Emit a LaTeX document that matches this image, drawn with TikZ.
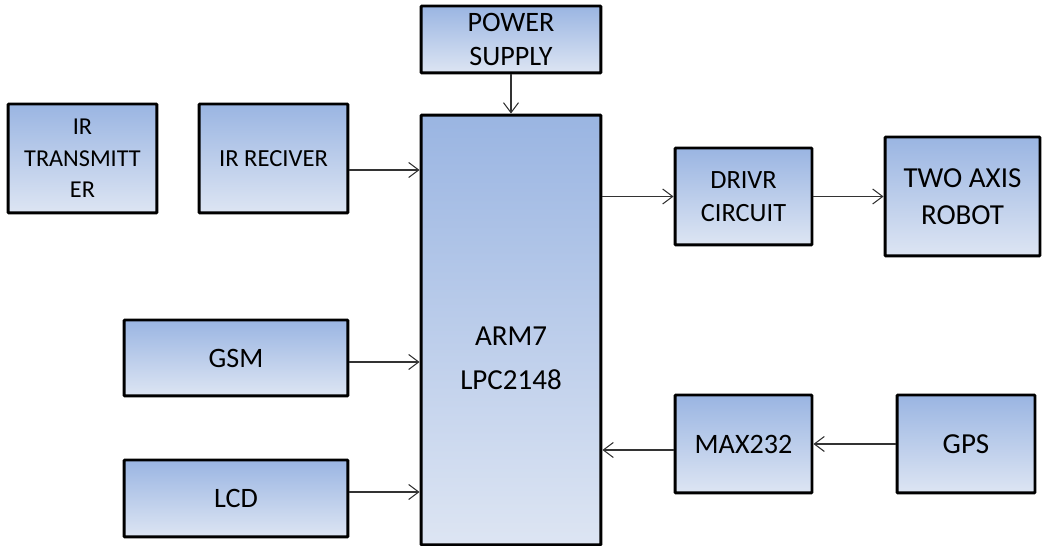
\documentclass[tikz,border=0pt]{standalone}
\usepackage{fontspec}
\setmainfont{Carlito}
\usetikzlibrary{positioning,arrows.meta}

\tikzset{
  blk/.style={draw=black, line width=1.7pt, rounded corners=0.5pt,
    top color=topblue, bottom color=botblue, align=center, inner sep=0pt,
    font=\fontsize{16}{19}\selectfont},
  link/.style={-{Straight Barb[length=2mm,width=3mm]}, draw=black!80, line width=0.6pt}
}
\definecolor{topblue}{HTML}{9AB5E2}
\definecolor{botblue}{HTML}{DDE5F3}

\begin{document}
\begin{tikzpicture}[x=0.02cm, y=-0.02cm]
\useasboundingbox (0,0) rectangle (1045,546);

% left column
\node[blk, minimum width=2.98cm, minimum height=2.18cm, font=\fontsize{13.8}{17.8}\selectfont] (irtx) at (82.5,158.5) {IR\\TRANSMITT\\ER};
\node[blk, minimum width=2.98cm, minimum height=2.18cm, font=\fontsize{14}{17.8}\selectfont] (irrx) at (273.5,158.5) {IR RECIVER};
\node[blk, minimum width=4.48cm, minimum height=1.52cm] (gsm) at (236,358) {GSM};
\node[blk, minimum width=4.48cm, minimum height=1.54cm] (lcd) at (236,498.5) {LCD};

% controller
\node[blk, minimum width=3.6cm, minimum height=1.34cm] (psu) at (511,39.5) {POWER\\SUPPLY};
\node[blk, minimum width=3.6cm, minimum height=8.6cm] (arm) at (511,330) {};
\node[font=\fontsize{16.5}{25}\selectfont, align=center] (armtxt) at (511,358) {ARM7\\LPC2148};

% right side
\node[blk, minimum width=2.74cm, minimum height=1.94cm, font=\fontsize{15}{18.7}\selectfont] (drv) at (743.5,196.5) {DRIVR\\CIRCUIT};
\node[blk, minimum width=3.1cm, minimum height=2.38cm, font=\fontsize{16.5}{21}\selectfont] (robot) at (962.5,196.5) {TWO AXIS\\ROBOT};
\node[blk, minimum width=2.74cm, minimum height=1.96cm] (max) at (743.5,444) {MAX232};
\node[blk, minimum width=2.76cm, minimum height=1.96cm, font=\fontsize{16.5}{20}\selectfont] (gps) at (966,444) {GPS};

% connections
\draw[link] (irrx.east |- 0,170) -- (arm.west |- 0,170);
\draw[link] (psu.south) -- (arm.north);
\draw[link] (gsm.east |- 0,362) -- (arm.west |- 0,362);
\draw[link] (lcd.east |- 0,492) -- (arm.west |- 0,492);
\draw[link] (arm.east |- drv.west) -- (drv.west);
\draw[link] (drv.east) -- (drv.east -| robot.west);
\draw[link] (gps.west) -- (max.east);
\draw[link] (max.west |- 0,450) -- (arm.east |- 0,450);
\end{tikzpicture}
\end{document}
